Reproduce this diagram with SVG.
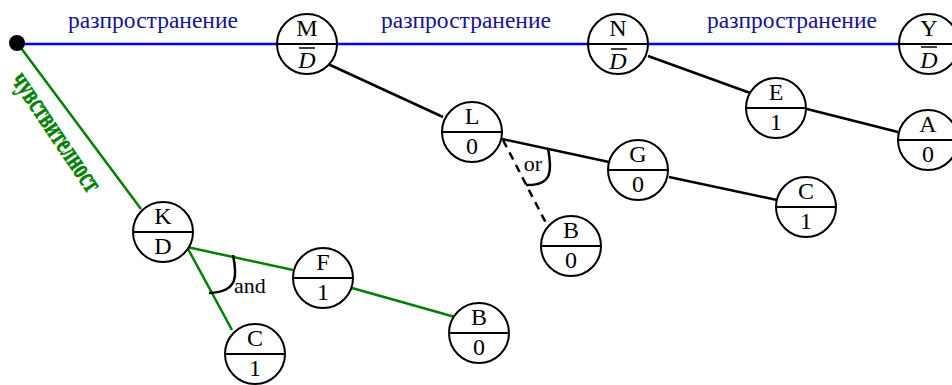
<svg xmlns="http://www.w3.org/2000/svg" width="952" height="385" viewBox="0 0 952 385">
<style>
.node circle{fill:#fff;stroke:#000;stroke-width:2}
.node line{stroke:#000;stroke-width:2}
.lbl{font-family:'Liberation Serif','Times New Roman','DejaVu Serif',serif;font-size:24px;fill:#000;text-anchor:middle}
.it{font-style:italic}
.edge{fill:none;stroke-width:2.5}
.k{stroke:#000}
.g{stroke:#008000}
.b{stroke:#0000ff}
.prop{font-family:'Liberation Serif','Times New Roman','DejaVu Serif',serif;font-size:23.5px;fill:#14148c;text-anchor:middle}
.small{font-family:'Liberation Serif','Times New Roman','DejaVu Serif',serif;font-size:22px;fill:#000}
.sens{font-family:'Liberation Serif','Times New Roman','DejaVu Serif',serif;font-weight:bold;font-size:29px;fill:#008000;stroke:#008000;stroke-width:0.6;text-anchor:middle}
</style>
<g id="connectors">
<line class="edge b" x1="18" y1="44" x2="900" y2="44"/>
<line class="edge g" x1="18" y1="44" x2="141" y2="209"/>
<line class="edge k" x1="328" y1="64" x2="443" y2="117"/>
<line class="edge k" x1="648" y1="56" x2="753" y2="94"/>
<line class="edge k" x1="807" y1="109" x2="898" y2="132"/>
<line class="edge k" x1="502" y1="139" x2="609" y2="162"/>
<line class="edge k" x1="669" y1="177" x2="777" y2="200"/>
<line class="edge k" x1="503" y1="140" x2="546" y2="223" stroke-dasharray="8,6"/>
<path class="edge k" d="M548,148 C552,170 553,186 526,185" stroke-width="2"/>
<line class="edge g" x1="187" y1="247" x2="293" y2="270"/>
<line class="edge g" x1="187" y1="247" x2="232" y2="330"/>
<line class="edge g" x1="352" y1="288" x2="455" y2="317"/>
<path class="edge k" d="M233,255 C237,275 239,292 209,293" stroke-width="2"/>
<text class="small" x="533" y="171" text-anchor="middle">or</text>
<text class="small" x="234" y="293">and</text>
<text class="prop" x="153" y="28">разпространение</text>
<text class="prop" x="466" y="28">разпространение</text>
<text class="prop" x="792" y="28">разпространение</text>
<text class="sens" x="0" y="7" transform="translate(55,133) rotate(56)" textLength="138" lengthAdjust="spacingAndGlyphs">чувствителност</text>
</g>
<circle id="start" cx="17" cy="43" r="8" fill="#000"/>
<g id="node-M" class="node"><circle cx="307" cy="44" r="30"/><line x1="277" y1="44" x2="337" y2="44"/><text class="lbl" x="307" y="36">M</text><line x1="299" y1="48" x2="315" y2="48" style="stroke-width:1.5"/><text class="lbl it" x="307" y="68">D</text></g>
<g id="node-N" class="node"><circle cx="618" cy="44" r="30"/><line x1="588" y1="44" x2="648" y2="44"/><text class="lbl" x="618" y="36">N</text><line x1="611" y1="49" x2="627" y2="49" style="stroke-width:1.5"/><text class="lbl it" x="618" y="69">D</text></g>
<g id="node-Y" class="node"><circle cx="929" cy="44" r="30"/><line x1="899" y1="44" x2="959" y2="44"/><text class="lbl" x="929" y="36">Y</text><line x1="921" y1="47" x2="937" y2="47" style="stroke-width:1.5"/><text class="lbl it" x="929" y="68">D</text></g>
<g id="node-L" class="node"><circle cx="472" cy="132" r="30"/><line x1="442" y1="132" x2="502" y2="132"/><text class="lbl" x="472" y="124">L</text><text class="lbl" x="472" y="154">0</text></g>
<g id="node-E" class="node"><circle cx="776" cy="108" r="30"/><line x1="746" y1="108" x2="806" y2="108"/><text class="lbl" x="776" y="100">E</text><text class="lbl" x="776" y="130">1</text></g>
<g id="node-A" class="node"><circle cx="928" cy="140" r="30"/><line x1="898" y1="140" x2="958" y2="140"/><text class="lbl" x="928" y="132">A</text><text class="lbl" x="928" y="162">0</text></g>
<g id="node-G" class="node"><circle cx="638" cy="170" r="30"/><line x1="608" y1="170" x2="668" y2="170"/><text class="lbl" x="638" y="162">G</text><text class="lbl" x="638" y="192">0</text></g>
<g id="node-C1" class="node"><circle cx="806" cy="207" r="30"/><line x1="776" y1="207" x2="836" y2="207"/><text class="lbl" x="806" y="199">C</text><text class="lbl" x="806" y="229">1</text></g>
<g id="node-B1" class="node"><circle cx="571" cy="246" r="30"/><line x1="541" y1="246" x2="601" y2="246"/><text class="lbl" x="571" y="238">B</text><text class="lbl" x="571" y="268">0</text></g>
<g id="node-K" class="node"><circle cx="163" cy="232" r="30"/><line x1="133" y1="232" x2="193" y2="232"/><text class="lbl" x="163" y="224">K</text><text class="lbl" x="163" y="254">D</text></g>
<g id="node-F" class="node"><circle cx="323" cy="278" r="30"/><line x1="293" y1="278" x2="353" y2="278"/><text class="lbl" x="323" y="270">F</text><text class="lbl" x="323" y="300">1</text></g>
<g id="node-B2" class="node"><circle cx="479" cy="333" r="30"/><line x1="449" y1="333" x2="509" y2="333"/><text class="lbl" x="479" y="325">B</text><text class="lbl" x="479" y="355">0</text></g>
<g id="node-C2" class="node"><circle cx="255" cy="354" r="30"/><line x1="225" y1="354" x2="285" y2="354"/><text class="lbl" x="255" y="346">C</text><text class="lbl" x="255" y="376">1</text></g>
</svg>
